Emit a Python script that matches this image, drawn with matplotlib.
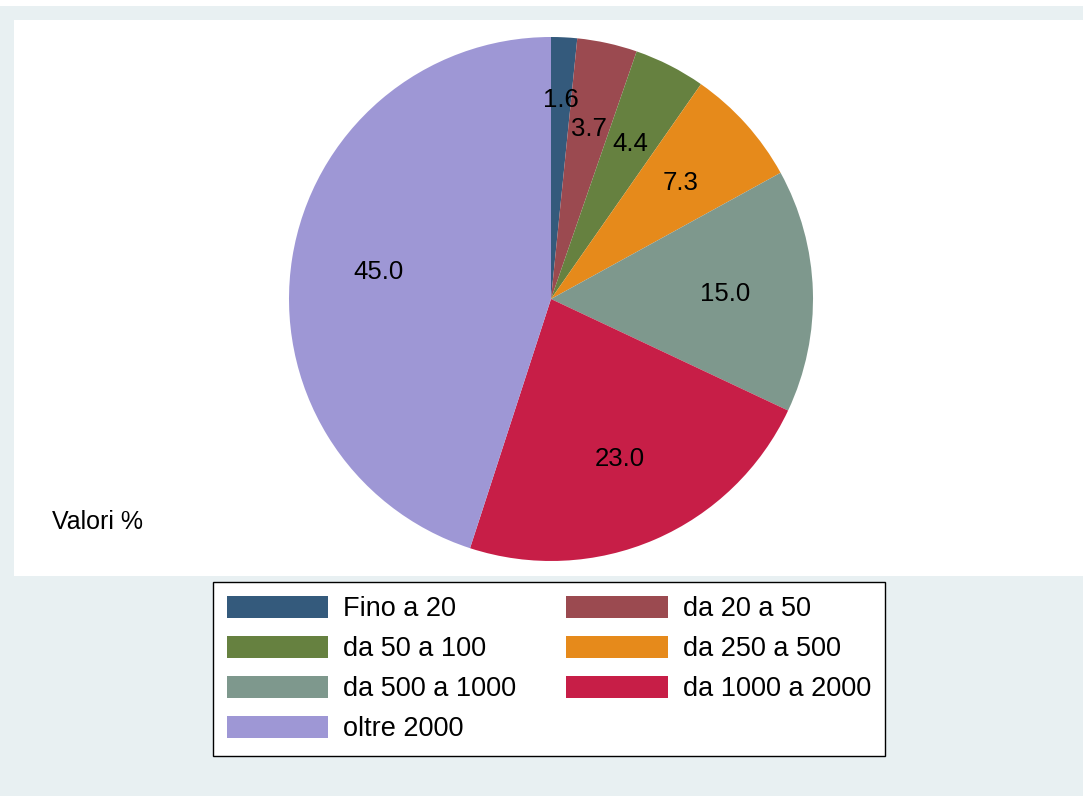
import numpy as np
import matplotlib
matplotlib.use("Agg")
import matplotlib.pyplot as plt
from matplotlib.patches import Rectangle, Patch

plt.rcParams['font.family'] = ['Liberation Sans', 'DejaVu Sans']

categories = ["Fino a 20", "da 20 a 50", "da 50 a 100", "da 250 a 500",
              "da 500 a 1000", "da 1000 a 2000", "oltre 2000"]
values = [1.6, 3.7, 4.4, 7.3, 15.0, 23.0, 45.0]
colors = ["#345a7c", "#9b4a50", "#668140", "#e68a1b",
          "#7e988d", "#c71e47", "#9e97d5"]

W, H = 1083, 796
fig = plt.figure(figsize=(W / 100, H / 100), dpi=100, facecolor="#e8f0f2")

def fx(px):
    return px / W

def fy(py):
    return 1 - py / H

# white strip at the very top and white plot region
fig.add_artist(Rectangle((0, fy(6)), 1, 6 / H, transform=fig.transFigure,
                         facecolor="white", edgecolor="none", zorder=0))
fig.add_artist(Rectangle((fx(14), fy(576)), 1 - fx(14), (576 - 20) / H,
                         transform=fig.transFigure, facecolor="white",
                         edgecolor="none", zorder=0))

# pie axes: centre (551, 299), radius 262 px
cx, cy, r = 551, 299, 262
ax = fig.add_axes([fx(cx - r), fy(cy + r), 2 * r / W, 2 * r / H])
wedges, texts = ax.pie(values, colors=colors, startangle=90, counterclock=False,
                       labels=[f"{v:.1f}" for v in values], labeldistance=0.665,
                       wedgeprops=dict(linewidth=0),
                       textprops=dict(fontsize=18.5, color="black"))
for t in texts:
    t.set_ha("center")
    t.set_va("center")
# first (tiny) slice label sits further out
x0, y0 = texts[0].get_position()
texts[0].set_position((x0 * 0.76 / 0.665, y0 * 0.76 / 0.665))
ax.set_xlim(-1, 1)
ax.set_ylim(-1, 1)
ax.set_aspect("equal")
ax.axis("off")

fig.text(fx(52), fy(522), "Valori %", fontsize=18, ha="left", va="center")

# legend filled row by row (matplotlib fills columns first)
order = [0, 2, 4, 6, 1, 3, 5]
handles = [Patch(facecolor=colors[i], edgecolor="none") for i in order]
labels = [categories[i] for i in order]
leg = fig.legend(handles, labels, ncol=2, loc="center",
                 bbox_to_anchor=(fx(549), fy(669)), fontsize=19.5,
                 frameon=True, fancybox=False, edgecolor="black", framealpha=1,
                 handlelength=3.75, handleheight=0.9, handletextpad=0.55,
                 labelspacing=0.5, columnspacing=1.85, borderpad=0.5,
                 borderaxespad=0)
leg.get_frame().set_linewidth(1.0)
leg.get_frame().set_facecolor("white")

fig.savefig("out.png", dpi=100, facecolor=fig.get_facecolor())
